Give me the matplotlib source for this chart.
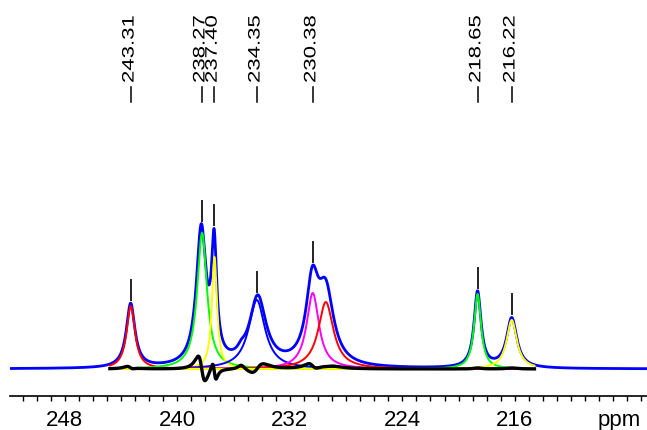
#!/bin/python

import numpy as np
import matplotlib.pyplot as plt
from matplotlib import patheffects
from matplotlib.transforms import Affine2D

# chemical shifts printed above the spectrum
label_ppm = [243.31, 238.27, 237.40, 234.35, 230.38, 218.65, 216.22]

# deconvolution components (Lorentzian): centre, height, FWHM, colour
fit_ppm = [243.31, 238.24, 237.36, 234.35, 230.37, 229.44, 218.65, 216.22]
fit_height = [63, 136, 112, 69, 76, 67, 75, 49]
fit_fwhm = [0.72, 0.84, 0.44, 1.40, 1.06, 1.30, 0.60, 0.88]
fit_color = ['#ff0000', '#00ff00', '#ffff00', '#0000ff', '#ff00ff', '#ff0000', '#00ff00', '#ffff00']

# lines making up the measured spectrum
obs_ppm = [243.32, 238.30, 237.385, 235.45, 234.28, 230.40, 229.44, 218.65, 216.22]
obs_height = [64, 136, 112, 5, 69, 77, 70, 76, 50]
obs_fwhm = [0.74, 0.84, 0.44, 0.60, 1.42, 1.06, 1.35, 0.60, 0.88]

ppm_range = (251.9, 206.6)
fit_range = (244.8, 214.6)


class Stretch(patheffects.AbstractPathEffect):
    """Draw text glyphs stretched along the writing direction."""

    def __init__(self, sx):
        super().__init__()
        self.sx = sx

    def draw_path(self, renderer, gc, tpath, affine, rgbFace=None):
        renderer.draw_path(gc, tpath, Affine2D().scale(self.sx, 1) + affine, rgbFace)


def lorentz(x, centre, height, fwhm):
    hw = fwhm / 2
    return height * hw**2 / ((x - centre)**2 + hw**2)


def spectrum(x, centres, heights, widths):
    return sum(lorentz(x, c, h, w) for c, h, w in zip(centres, heights, widths))


def main():
    plt.rcParams['font.family'] = ['Liberation Sans', 'DejaVu Sans']

    fig = plt.figure(figsize=(6.47, 4.30), dpi=100)
    ax = fig.add_axes([10 / 647, 34 / 430, 637 / 647, 396 / 430])

    x = np.linspace(ppm_range[0], ppm_range[1], 5000)
    xf = x[(x <= fit_range[0]) & (x >= fit_range[1])]

    ax.plot(x, spectrum(x, obs_ppm, obs_height, obs_fwhm), c='#0000ff', lw=2.0, zorder=2)

    for c, h, w, col in zip(fit_ppm, fit_height, fit_fwhm, fit_color):
        ax.plot(xf, lorentz(xf, c, h, w), c=col, lw=1.4, zorder=3)

    residual = spectrum(xf, obs_ppm, obs_height, obs_fwhm) - spectrum(xf, fit_ppm, fit_height, fit_fwhm)
    ax.plot(xf, residual, c='k', lw=2.4, zorder=4)

    # peak pick markers and shift labels
    trans = ax.get_xaxis_transform()
    for p in label_ppm:
        top = spectrum(np.array([p]), obs_ppm, obs_height, obs_fwhm)[0]
        ax.plot([p, p], [top + 3, top + 23], c='#222222', lw=1.4, zorder=5)
        ax.plot([p, p], [(396 - 102) / 396, (396 - 87) / 396], c='k', lw=1.1, transform=trans)
        ax.annotate(f'{p:.2f}', xy=(p, (396 - 83) / 396), xycoords=trans,
                    xytext=(2, 0), textcoords='offset points', rotation=90,
                    rotation_mode='anchor', ha='left', va='baseline', fontsize=12,
                    path_effects=[Stretch(1.33)])

    ax.set_xlim(*ppm_range)
    ax.set_ylim(-27, 369)
    ax.set_xticks([248, 240, 232, 224, 216])
    ax.set_xticks(np.arange(207, 252), minor=True)
    ax.tick_params(axis='x', which='both', direction='out', length=3.5, width=1.0,
                   labelsize=16, pad=6.5)
    ax.set_yticks([])
    for side in ['left', 'right', 'top']:
        ax.spines[side].set_visible(False)
    ax.spines['bottom'].set_linewidth(1.2)
    ax.patch.set_visible(False)

    ax.annotate('ppm', xy=(208.55, 0), xycoords=('data', 'axes fraction'),
                xytext=(0, -10), textcoords='offset points', ha='center', va='top',
                fontsize=16)

    fig.savefig('out.png', dpi=100)


if __name__ == '__main__':
    main()
